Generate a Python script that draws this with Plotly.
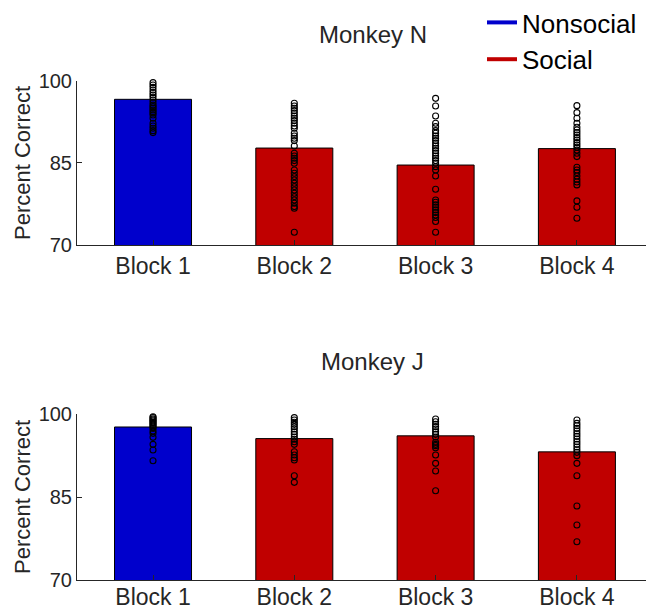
import plotly.graph_objects as go

blocks = ["Block 1", "Block 2", "Block 3", "Block 4"]
conditions = ["Nonsocial", "Social", "Social", "Social"]
ytick_vals = [70, 85, 100]

# Monkey N
n_means = [96.6, 87.7, 84.6, 87.6]
n_b1 = [100.13, 99.64, 99.22, 98.79, 98.30, 97.82, 97.39, 96.97, 96.48, 95.99, 95.57, 95.26,
        94.96, 94.65, 94.35, 94.05, 93.74, 93.13, 92.22, 91.73, 91.31, 90.88, 90.52]
n_b2 = [95.87, 95.38, 94.96, 94.53, 94.05, 93.56, 93.13, 92.71, 92.22, 91.73, 91.31, 90.40,
        89.91, 89.48, 89.06, 88.08, 86.75, 86.26, 85.83, 85.41, 84.92, 83.70, 83.10, 82.49,
        81.88, 81.27, 80.66, 80.05, 79.45, 78.84, 78.23, 77.62, 77.01, 76.71, 72.33]
n_b3 = [96.78, 95.38, 93.56, 92.22, 91.61, 90.88, 90.40, 89.91, 89.48, 89.06, 88.57, 88.08,
        87.66, 87.23, 86.75, 86.26, 85.83, 85.41, 84.92, 84.31, 83.70, 82.61, 80.18, 78.23,
        77.80, 77.32, 76.89, 76.41, 75.92, 75.49, 75.01, 74.28, 72.33]
n_b4 = [95.44, 94.17, 93.13, 92.22, 91.49, 91.00, 90.52, 90.09, 89.60, 89.18, 88.69, 88.27,
        87.84, 87.35, 86.75, 86.14, 84.19, 83.70, 83.22, 82.61, 82.00, 81.51, 80.97, 78.05,
        76.89, 74.89]

# Monkey J
j_means = [97.7, 95.6, 96.1, 93.2]
j_b1 = [99.57, 99.40, 99.15, 98.97, 98.79, 98.55, 98.36, 98.15, 97.94, 97.70, 97.46, 96.97,
        96.55, 95.83, 94.56, 93.53, 91.60]
j_b2 = [99.39, 98.97, 98.55, 98.18, 97.76, 97.34, 96.85, 96.37, 95.89, 95.47, 95.04, 94.56,
        93.23, 92.63, 92.14, 91.72, 88.88, 87.68]
j_b3 = [99.15, 98.66, 98.18, 97.76, 97.34, 96.85, 96.37, 95.89, 94.92, 94.56, 94.32, 93.95,
        92.63, 91.12, 89.73, 86.17]
j_b4 = [98.97, 98.36, 97.94, 97.46, 96.97, 96.49, 96.01, 95.53, 95.04, 94.56, 94.08, 93.59,
        93.11, 92.51, 91.12, 88.88, 83.39, 79.95, 76.93]

colors = {"Nonsocial": "#0000CC", "Social": "#C00000"}
FONT = "Liberation Sans, Arial, sans-serif"
AX = "#262626"

panels = [
    ("Monkey N", n_means, [n_b1, n_b2, n_b3, n_b4], "x", "y"),
    ("Monkey J", j_means, [j_b1, j_b2, j_b3, j_b4], "x2", "y2"),
]

fig = go.Figure()
xpos = list(range(1, len(blocks) + 1))

for title, means, pts, xa, ya in panels:
    fig.add_trace(go.Bar(
        x=xpos, y=means, width=0.545,
        marker=dict(color=[colors[c] for c in conditions], line=dict(color="black", width=1)),
        xaxis=xa, yaxis=ya, showlegend=False, hoverinfo="skip"))
    for i, vals in enumerate(pts):
        fig.add_trace(go.Scatter(
            x=[xpos[i]] * len(vals), y=vals, mode="markers",
            marker=dict(symbol="circle-open", size=6, color="black", line=dict(width=1.1, color="black")),
            cliponaxis=False, xaxis=xa, yaxis=ya, showlegend=False))

for name in ["Nonsocial", "Social"]:
    fig.add_trace(go.Scatter(x=[None], y=[None], mode="lines", name=name,
                             line=dict(color=colors[name], width=4)))

W, H = 646, 610
L = 77
plot_w = W - L

def py(p):
    return 1 - p / H

def px(p):
    return (p - L) / plot_w

axis_common = dict(
    showline=True, linecolor=AX, linewidth=1, ticks="inside", ticklen=5, tickcolor=AX,
    showgrid=False, zeroline=False, tickfont=dict(family=FONT, size=20, color=AX))

fig.update_layout(
    width=W, height=H, plot_bgcolor="white", paper_bgcolor="white",
    margin=dict(l=L, r=0, t=0, b=0, autoexpand=False),
    barmode="overlay",
    xaxis=dict(axis_common, domain=[0, 1], range=[0.462, 4.489], tickvals=xpos, ticktext=blocks,
               anchor="y", tickfont=dict(family=FONT, size=23, color=AX)),
    yaxis=dict(axis_common, domain=[py(245), py(80.7)], range=[70, 100], tickvals=ytick_vals, anchor="x"),
    xaxis2=dict(axis_common, domain=[0, 1], range=[0.462, 4.489], tickvals=xpos, ticktext=blocks,
                anchor="y2", tickfont=dict(family=FONT, size=23, color=AX), ticklabelstandoff=-4),
    yaxis2=dict(axis_common, domain=[py(580), py(414.3)], range=[70, 100], tickvals=ytick_vals, anchor="x2"),
    legend=dict(x=px(482), y=py(-1), xanchor="left", yanchor="top",
                font=dict(family=FONT, size=26, color="black"), bgcolor="rgba(0,0,0,0)",
                itemwidth=30, tracegroupgap=0),
    showlegend=True,
)

annotations = [
    dict(text="Monkey N", x=px(373), y=py(35), xref="paper", yref="paper",
         xanchor="center", yanchor="middle",
         showarrow=False, font=dict(family=FONT, size=24, color=AX)),
    dict(text="Monkey J", x=px(372), y=py(362), xref="paper", yref="paper",
         xanchor="center", yanchor="middle",
         showarrow=False, font=dict(family=FONT, size=24, color=AX)),
    dict(text="Percent Correct", x=px(22), y=py(163), xref="paper", yref="paper",
         xanchor="center", yanchor="middle",
         textangle=-90, showarrow=False, font=dict(family=FONT, size=22, color=AX)),
    dict(text="Percent Correct", x=px(22), y=py(497), xref="paper", yref="paper",
         xanchor="center", yanchor="middle",
         textangle=-90, showarrow=False, font=dict(family=FONT, size=22, color=AX)),
]
fig.update_layout(annotations=annotations)

fig.write_html("out.html")
